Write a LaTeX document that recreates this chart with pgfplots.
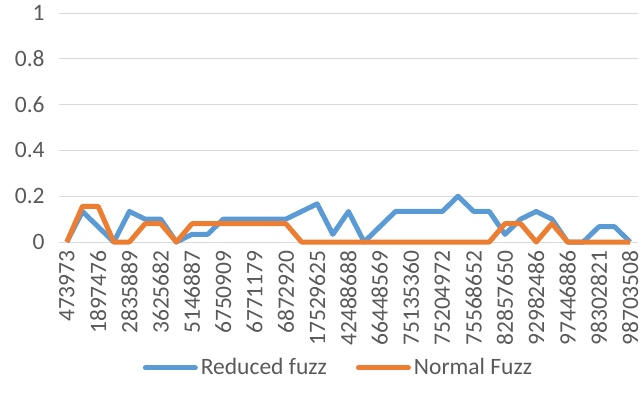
\documentclass[border=0pt]{standalone}
\usepackage{pgfplots}
\pgfplotsset{compat=1.18}
\usepackage{fontspec}
\setmainfont{Carlito}
\definecolor{txtgray}{HTML}{595959}
\definecolor{gridgray}{HTML}{D9D9D9}
\definecolor{reducedblue}{HTML}{5B9BD5}
\definecolor{normalorange}{HTML}{ED7D31}
\newcommand{\chartfont}{\fontsize{11.75pt}{14pt}\selectfont}

\begin{document}
\begin{tikzpicture}
\useasboundingbox (-29.5pt,-83pt) rectangle (292.5pt,121pt);
\begin{axis}[
    scale only axis,
    width=289.5pt, height=114.5pt,
    xmin=-0.5, xmax=36.5,
    ymin=0, ymax=1,
    ytick={0,0.2,0.4,0.6,0.8,1},
    xtick={0,2,...,36},
    xticklabels={473973,1897476,2835889,3625682,5146887,6750909,6771179,6872920,
        17529625,42488688,66448569,75135360,75204972,75568652,82857650,
        92982486,97446886,98302821,98703508},
    axis line style={draw=none},
    major tick style={draw=none},
    ymajorgrids,
    major grid style={line width=0.5pt, draw=gridgray},
    clip=false,
    /pgf/number format/assume math mode=true,
    tick label style={font=\chartfont, text=txtgray},
    yticklabel style={anchor=east, inner sep=0pt, xshift=-7pt},
    xticklabel style={rotate=90, anchor=east, inner sep=0pt},
    xticklabel shift=4pt,
    legend columns=2,
    legend style={draw=none, fill=none, font=\chartfont, text=txtgray,
        at={(0.4836,-0.55)}, anchor=center, inner sep=0pt,
        nodes={inner sep=1.5pt},
        /tikz/every even column/.append style={column sep=13pt}},
    legend image code/.code={
        \draw[#1, line cap=round] (1.25pt,0pt) -- (26.25pt,0pt);
    },
]
\addplot[reducedblue, line width=2.5pt, line join=round, mark=none] coordinates {
    (0,0) (1,0.1333) (2,0.0667) (3,0) (4,0.1333) (5,0.1) (6,0.1) (7,0)
    (8,0.0333) (9,0.0333) (10,0.1) (11,0.1) (12,0.1) (13,0.1) (14,0.1)
    (15,0.1333) (16,0.1667) (17,0.0333) (18,0.1333) (19,0) (20,0.0667)
    (21,0.1333) (22,0.1333) (23,0.1333) (24,0.1333) (25,0.2) (26,0.1333)
    (27,0.1333) (28,0.0333) (29,0.1) (30,0.1333) (31,0.1) (32,0) (33,0)
    (34,0.0667) (35,0.0667) (36,0)
};
\addlegendentry{Reduced fuzz}
\addplot[normalorange, line width=2.5pt, line join=round, mark=none] coordinates {
    (0,0) (1,0.156) (2,0.156) (3,0) (4,0) (5,0.08) (6,0.08) (7,0)
    (8,0.08) (9,0.08) (10,0.08) (11,0.08) (12,0.08) (13,0.08) (14,0.08)
    (15,0) (16,0) (17,0) (18,0) (19,0) (20,0) (21,0) (22,0) (23,0)
    (24,0) (25,0) (26,0) (27,0) (28,0.08) (29,0.08) (30,0) (31,0.08)
    (32,0) (33,0) (34,0) (35,0) (36,0)
};
\addlegendentry{Normal Fuzz}
\end{axis}
\end{tikzpicture}
\end{document}
